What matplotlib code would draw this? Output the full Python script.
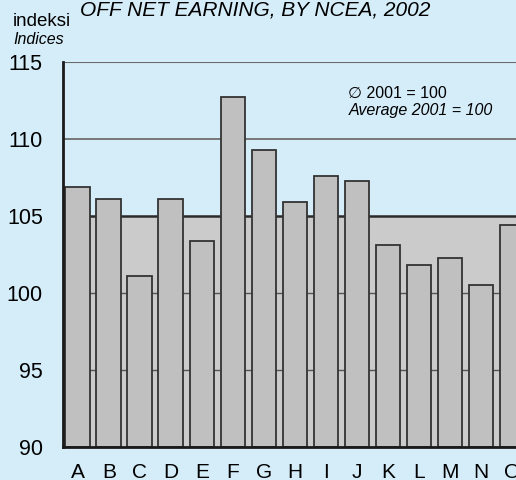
import matplotlib
matplotlib.use('Agg')
import matplotlib.pyplot as plt
import numpy as np

plt.rcParams['font.family'] = ['Liberation Sans', 'DejaVu Sans']

# data
categories = ['A', 'B', 'C', 'D', 'E', 'F', 'G', 'H', 'I', 'J', 'K', 'L', 'M', 'N', 'O']
values = [106.9, 106.1, 101.1, 106.1, 103.4, 112.7, 109.3, 105.9, 107.6, 107.3,
          103.1, 101.8, 102.3, 100.5, 104.4]
yticks = [90, 95, 100, 105, 110, 115]

bg = '#d5edf9'

fig = plt.figure(figsize=(5.16, 4.8), dpi=100, facecolor=bg)
ax = fig.add_axes([63 / 516, 33 / 480, 453 / 516, 385 / 480])
ax.set_facecolor(bg)

x = np.arange(len(categories))
ax.set_xlim(-0.48, 14.13)
ax.set_ylim(90, 115)

# shaded band below 105
ax.axhspan(90, 105, color='#cbcbcb', zorder=0)
for y in [95, 100]:
    ax.axhline(y, color='#555555', lw=1.0, zorder=1)
ax.axhline(110, color='#6e6e6e', lw=1.3, zorder=1)
ax.axhline(105, color='#2a2a2a', lw=1.8, zorder=1)
ax.axhline(115, color='#6a6a6a', lw=1.5, zorder=1)

ax.bar(x, np.array(values) - 90, bottom=90, width=0.8, color='#c0c0c0',
       edgecolor='#333333', linewidth=1.3, zorder=2)

for s in ['top', 'right']:
    ax.spines[s].set_visible(False)
for s in ['left', 'bottom']:
    ax.spines[s].set_linewidth(2)
    ax.spines[s].set_color('#1a1a1a')
    ax.spines[s].set_zorder(3)

ax.set_yticks(yticks)
ax.set_yticklabels([str(t) for t in yticks], fontsize=15.5)
ax.set_xticks(x)
ax.set_xticklabels(categories, fontsize=15)
ax.tick_params(axis='y', length=0, pad=14.5)
ax.tick_params(axis='x', length=0, pad=11.5)

fig.text(80 / 516, 1 - 10 / 480, 'OFF NET EARNING, BY NCEA, 2002', fontsize=15,
         style='italic', va='center', ha='left')
fig.text(13 / 516, 1 - 22 / 480, 'indeksi', fontsize=13.5, va='center', ha='left')
fig.text(13 / 516, 1 - 39 / 480, 'Indices', fontsize=11.5, style='italic',
         va='center', ha='left')

ax.text(0.63, 0.919, '\u2205 2001 = 100', fontsize=11.5, transform=ax.transAxes,
        va='center', ha='left')
ax.text(0.63, 0.875, 'Average 2001 = 100', fontsize=11.5, style='italic',
        transform=ax.transAxes, va='center', ha='left')

fig.savefig('out.png', dpi=100, facecolor=bg)
